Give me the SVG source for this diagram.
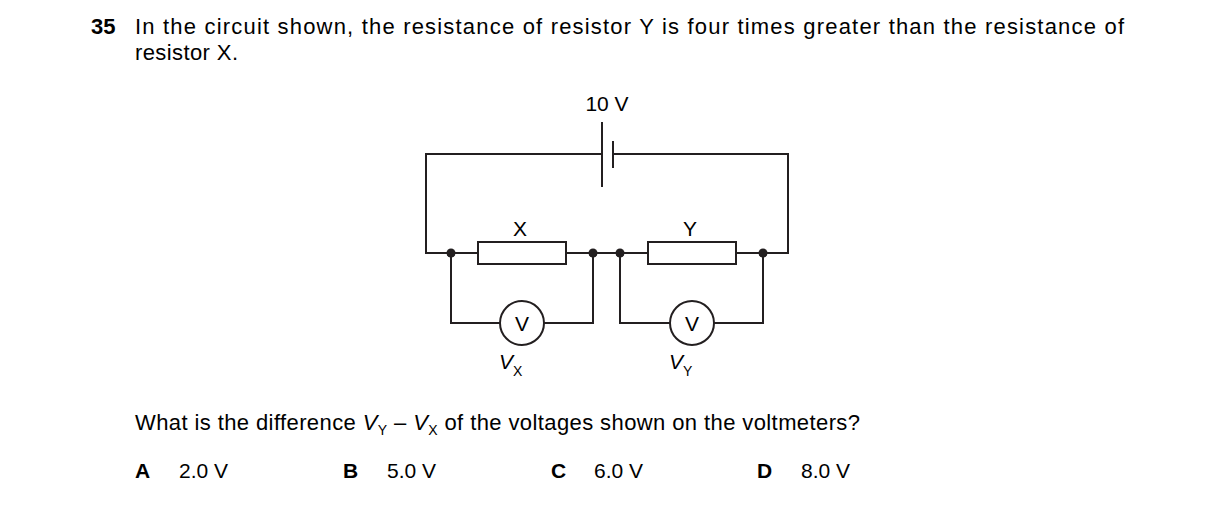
<svg xmlns="http://www.w3.org/2000/svg" width="1216" height="505" viewBox="0 0 1216 505">
<style>
text{font-family:"Liberation Sans",Arial,sans-serif;font-size:21px;fill:#000}
.t{font-size:22px}
.w{fill:none;stroke:#231f20;stroke-width:2}
.b{font-weight:bold}
.i{font-style:italic}
.s{font-size:14px}
</style>
<rect width="1216" height="505" fill="#fff"/>
<text x="91" y="34" class="b t">35</text>
<text x="135" y="34" class="t" textLength="989" lengthAdjust="spacing">In the circuit shown, the resistance of resistor Y is four times greater than the resistance of</text>
<text x="135" y="60" class="t" textLength="103">resistor X.</text>
<text x="607" y="111" text-anchor="middle">10 V</text>
<g id="connectors" class="w">
<path d="M602,154H426V253H478M566,253H648M736,253H788V154H613"/>
<path d="M451,253V323H500M544,323H593V253"/>
<path d="M620,253V323H670M714,323H763V253"/>
</g>
<g id="battery" class="w"><line x1="602" y1="122" x2="602" y2="187"/><line x1="613" y1="141" x2="613" y2="168"/></g>
<g id="X"><rect x="478" y="242" width="88" height="22" class="w"/><text x="520" y="236" text-anchor="middle">X</text></g>
<g id="Y"><rect x="648" y="242" width="88" height="22" class="w"/><text x="690" y="236" text-anchor="middle">Y</text></g>
<g id="dots" fill="#231f20"><circle cx="451" cy="253" r="4.5"/><circle cx="593" cy="253" r="4.5"/><circle cx="620" cy="253" r="4.5"/><circle cx="763" cy="253" r="4.5"/></g>
<g id="VX"><circle cx="522" cy="323" r="22" class="w" fill="#fff"/><text x="522" y="331" text-anchor="middle">V</text><text x="499" y="369" class="i">V</text><text x="513" y="376" class="s">X</text></g>
<g id="VY"><circle cx="692" cy="323" r="22" class="w" fill="#fff"/><text x="692" y="331" text-anchor="middle">V</text><text x="669" y="369" class="i">V</text><text x="683" y="376" class="s">Y</text></g>
<text x="135" y="430" class="t" textLength="725">What is the difference <tspan class="i">V</tspan><tspan class="s" dy="5">Y</tspan><tspan dy="-5"> – </tspan><tspan class="i">V</tspan><tspan class="s" dy="5">X</tspan><tspan dy="-5"> of the voltages shown on the voltmeters?</tspan></text>
<text x="135" y="478" class="b">A</text><text x="179" y="478">2.0 V</text>
<text x="343" y="478" class="b">B</text><text x="387" y="478">5.0 V</text>
<text x="551" y="478" class="b">C</text><text x="594" y="478">6.0 V</text>
<text x="757" y="478" class="b">D</text><text x="801" y="478">8.0 V</text>
</svg>
